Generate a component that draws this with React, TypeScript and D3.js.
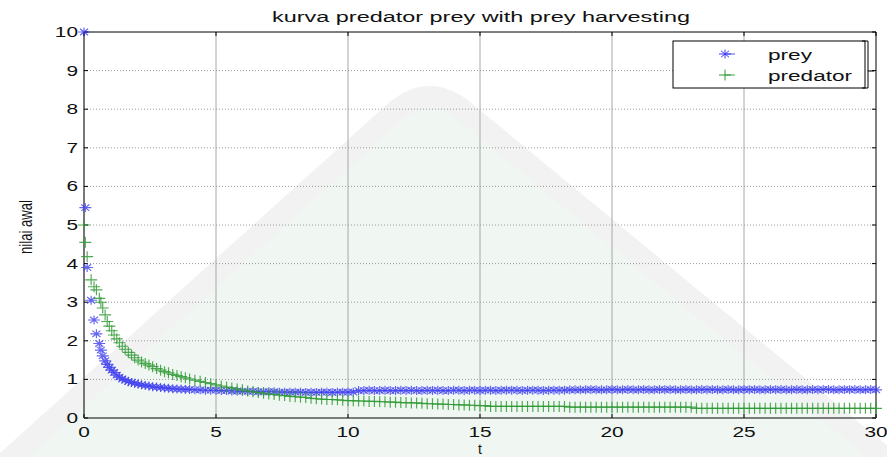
import * as d3 from "d3";

const title = "kurva predator prey with prey harvesting";
const xLabel = "t";
const yLabel = "nilai awal";
const xTicks = [0, 5, 10, 15, 20, 25, 30];
const yTicks = [0, 1, 2, 3, 4, 5, 6, 7, 8, 9, 10];

// time points of the solution
const time = [
    0, 0.05, 0.12, 0.27, 0.38, 0.47, 0.58, 0.64, 0.71, 0.8,
    0.88, 0.96, 1.05, 1.14, 1.24, 1.34, 1.45, 1.56, 1.68, 1.8,
    1.92, 2.05, 2.18, 2.32, 2.46, 2.6, 2.75, 2.9, 3.05, 3.2,
    3.36, 3.52, 3.68, 3.84, 4.0,
    4.2, 4.4, 4.6, 4.8, 5, 5.2, 5.4, 5.6, 5.8, 6,
    6.2, 6.4, 6.6, 6.8, 7, 7.2, 7.4, 7.6, 7.8, 8,
    8.2, 8.4, 8.6, 8.8, 9, 9.2, 9.4, 9.6, 9.8, 10,
    10.2, 10.4, 10.6, 10.8, 11, 11.2, 11.4, 11.6, 11.8, 12,
    12.2, 12.4, 12.6, 12.8, 13, 13.2, 13.4, 13.6, 13.8, 14,
    14.2, 14.4, 14.6, 14.8, 15, 15.2, 15.4, 15.6, 15.8, 16,
    16.2, 16.4, 16.6, 16.8, 17, 17.2, 17.4, 17.6, 17.8, 18,
    18.2, 18.4, 18.6, 18.8, 19, 19.2, 19.4, 19.6, 19.8, 20,
    20.2, 20.4, 20.6, 20.8, 21, 21.2, 21.4, 21.6, 21.8, 22,
    22.2, 22.4, 22.6, 22.8, 23, 23.2, 23.4, 23.6, 23.8, 24,
    24.2, 24.4, 24.6, 24.8, 25, 25.2, 25.4, 25.6, 25.8, 26,
    26.2, 26.4, 26.6, 26.8, 27, 27.2, 27.4, 27.6, 27.8, 28,
    28.2, 28.4, 28.6, 28.8, 29, 29.2, 29.4, 29.6, 29.8, 30,
];

const prey = [
    10, 5.45, 3.9, 3.05, 2.54, 2.18, 1.93, 1.76, 1.61, 1.48,
    1.39, 1.31, 1.24, 1.18, 1.11, 1.06, 1.01, 0.98, 0.94, 0.92,
    0.9, 0.88, 0.86, 0.84, 0.83, 0.81, 0.8, 0.79, 0.78, 0.77,
    0.76, 0.75, 0.75, 0.74, 0.74,
    0.73, 0.73, 0.72, 0.72, 0.72, 0.71, 0.71, 0.7, 0.7, 0.69,
    0.69, 0.69, 0.68, 0.68, 0.68, 0.68, 0.67, 0.67, 0.67, 0.67,
    0.67, 0.66, 0.67, 0.66, 0.67, 0.67, 0.66, 0.67, 0.67, 0.67,
    0.67, 0.71, 0.71, 0.72, 0.71, 0.71, 0.72, 0.71, 0.71, 0.72,
    0.71, 0.72, 0.71, 0.71, 0.72, 0.71, 0.72, 0.71, 0.71, 0.72,
    0.72, 0.71, 0.72, 0.72, 0.71, 0.72, 0.72, 0.71, 0.72, 0.72,
    0.72, 0.72, 0.71, 0.72, 0.72, 0.72, 0.71, 0.72, 0.72, 0.72,
    0.72, 0.73, 0.73, 0.73, 0.73, 0.74, 0.73, 0.73, 0.73, 0.74,
    0.73, 0.73, 0.74, 0.73, 0.73, 0.74, 0.73, 0.73, 0.74, 0.73,
    0.74, 0.73, 0.73, 0.74, 0.73, 0.73, 0.74, 0.73, 0.74, 0.73,
    0.73, 0.74, 0.73, 0.73, 0.74, 0.73, 0.74, 0.73, 0.73, 0.74,
    0.73, 0.74, 0.73, 0.73, 0.74, 0.73, 0.73, 0.74, 0.73, 0.74,
    0.74, 0.73, 0.73, 0.74, 0.73, 0.74, 0.73, 0.73, 0.74, 0.73,
];

const predator = [
    5.0, 4.55, 4.18, 3.58, 3.4, 3.32, 3.1, 3.0, 2.85, 2.67,
    2.5, 2.38, 2.26, 2.15, 2.05, 1.95, 1.86, 1.78, 1.7, 1.63,
    1.56, 1.5, 1.45, 1.41, 1.37, 1.33, 1.28, 1.24, 1.2, 1.17,
    1.13, 1.1, 1.07, 1.04, 1.01,
    0.98, 0.95, 0.92, 0.89, 0.86, 0.83, 0.8, 0.78, 0.75, 0.73,
    0.7, 0.68, 0.66, 0.64, 0.62, 0.61, 0.59, 0.58, 0.56, 0.55,
    0.54, 0.53, 0.51, 0.5, 0.49, 0.48, 0.48, 0.47, 0.46, 0.45,
    0.45, 0.44, 0.44, 0.43, 0.43, 0.42, 0.42, 0.41, 0.41, 0.4,
    0.4, 0.39, 0.39, 0.38, 0.37, 0.37, 0.36, 0.36, 0.35, 0.35,
    0.34, 0.34, 0.33, 0.33, 0.32, 0.32, 0.3, 0.3, 0.3, 0.3,
    0.3, 0.3, 0.3, 0.3, 0.3, 0.3, 0.3, 0.3, 0.3, 0.3,
    0.3, 0.28, 0.28, 0.28, 0.28, 0.28, 0.28, 0.28, 0.28, 0.28,
    0.28, 0.28, 0.28, 0.28, 0.28, 0.28, 0.28, 0.28, 0.28, 0.28,
    0.28, 0.28, 0.28, 0.28, 0.28, 0.25, 0.25, 0.25, 0.25, 0.25,
    0.25, 0.25, 0.25, 0.25, 0.25, 0.25, 0.25, 0.25, 0.25, 0.25,
    0.25, 0.25, 0.25, 0.25, 0.25, 0.25, 0.25, 0.25, 0.25, 0.25,
    0.25, 0.25, 0.25, 0.25, 0.25, 0.25, 0.25, 0.25, 0.25, 0.25,
];

const legendItems = ["prey", "predator"];

const width = 887;
const height = 457;
const marginLeft = 84;
const marginRight = 11;
const marginTop = 32;
const marginBottom = 39;
const font = "Liberation Sans, Arial, sans-serif";
const preyColor = "#3d3df0";
const predColor = "#2f9a35";

const starPath = "M-6,0H6M0,-4.5V4.5M-4,-3.2L4,3.2M-4,3.2L4,-3.2";
const plusPath = "M-6,0H6M0,-5.5V5.5";

// the picture's text is stretched sideways, so widen it with textLength
const Wide: React.FC<{ x: number; y: number; anchor?: string; len: number; children: React.ReactNode }> =
    ({ x, y, anchor = "start", len, children }) => (
        <text x={x} y={y} textAnchor={anchor} textLength={len} lengthAdjust="spacingAndGlyphs"
            fontSize={14} fontFamily={font} fill="#111">{children}</text>
    );

const App: React.FC = () => {
    const x = d3.scaleLinear([0, 30], [marginLeft, width - marginRight]);
    const y = d3.scaleLinear([0, 10], [height - marginBottom, marginTop]);
    const x0 = x(0), x1 = x(30), y0 = y(0), y1 = y(10);
    const digitW = 11.6;

    return (
        <svg width={width} height={height} style={{ position: "absolute", left: 0, top: 0, background: "#fff" }}>
            {/* faint watermark */}
            <path d="M -80 540 L 395 112 Q 430 82 465 112 L 960 520 Z" fill="#f0f7f2" stroke="#f2f2f2" strokeWidth={22} />

            {/* grid */}
            <g>
                {xTicks.slice(1, -1).map((t) => (
                    <line key={t} x1={x(t)} x2={x(t)} y1={y1} y2={y0} stroke="#a8a8a8" strokeWidth={1} />
                ))}
                {yTicks.slice(1, -1).map((t) => (
                    <line key={t} x1={x0} x2={x1} y1={y(t)} y2={y(t)} stroke="#9a9a9a" strokeWidth={1} strokeDasharray="1,2" />
                ))}
            </g>

            {/* axes box and ticks */}
            <g stroke="#000" fill="none">
                <line x1={x0} x2={x1} y1={y1} y2={y1} strokeWidth={1} />
                <line x1={x1} x2={x1} y1={y1} y2={y0} strokeWidth={1} />
                <line x1={x0} x2={x1} y1={y0} y2={y0} stroke="#555" strokeWidth={1.6} />
                <line x1={x0} x2={x0} y1={y1} y2={y0} stroke="#555" strokeWidth={1.6} />
                {xTicks.map((t) => (
                    <g key={t}>
                        <line x1={x(t)} x2={x(t)} y1={y0} y2={y0 - 4} />
                        <line x1={x(t)} x2={x(t)} y1={y1} y2={y1 + 4} />
                    </g>
                ))}
                {yTicks.map((t) => (
                    <g key={t}>
                        <line x1={x0} x2={x0 + 4} y1={y(t)} y2={y(t)} />
                        <line x1={x1} x2={x1 - 4} y1={y(t)} y2={y(t)} />
                    </g>
                ))}
            </g>

            {/* tick labels */}
            {yTicks.map((t) => (
                <Wide key={t} x={x0 - 6} y={y(t) + 5} anchor="end" len={String(t).length * digitW}>{t}</Wide>
            ))}
            {xTicks.map((t) => (
                <Wide key={t} x={x(t)} y={y0 + 19} anchor="middle" len={String(t).length * digitW}>{t}</Wide>
            ))}

            {/* series: markers only */}
            <g stroke={preyColor} strokeOpacity={0.8} fill="none" strokeWidth={1.15}>
                {prey.map((d, i) => (
                    <path key={i} transform={`translate(${x(time[i])},${y(d)})`} d={starPath} />
                ))}
            </g>
            <g stroke={predColor} strokeOpacity={0.85} fill="none" strokeWidth={1.15}>
                {predator.map((d, i) => (
                    <path key={i} transform={`translate(${x(time[i])},${y(d)})`} d={plusPath} />
                ))}
            </g>

            {/* titles */}
            <Wide x={481} y={22} anchor="middle" len={418}>{title}</Wide>
            <text x={(x0 + x1) / 2} y={454} textAnchor="middle" fontSize={14} fontFamily={font} fill="#111">{xLabel}</text>
            <text transform="translate(32,227) rotate(-90) scale(1.05,1.4)" textAnchor="middle"
                fontSize={12.5} fontFamily={font} fill="#111">{yLabel}</text>

            {/* legend */}
            <g>
                <rect x={673} y={41} width={192} height={47} fill="#fff" stroke="#000" strokeWidth={1} />
                <path d="M862,41H868V88H862M868,71H874" fill="none" stroke="#000" strokeWidth={1} />
                {legendItems.map((name, i) => {
                    const ly = 54 + i * 21;
                    const c = i === 0 ? preyColor : predColor;
                    return (
                        <g key={name}>
                            <line x1={725} x2={735} y1={ly} y2={ly} stroke={c} strokeWidth={0.9} />
                            <path transform={`translate(725,${ly})`} d={i === 0 ? starPath : plusPath} stroke={c} fill="none" />
                            <Wide x={768} y={ly + 6} len={i === 0 ? 44 : 84}>{name}</Wide>
                        </g>
                    );
                })}
            </g>
        </svg>
    );
};

export default App;
